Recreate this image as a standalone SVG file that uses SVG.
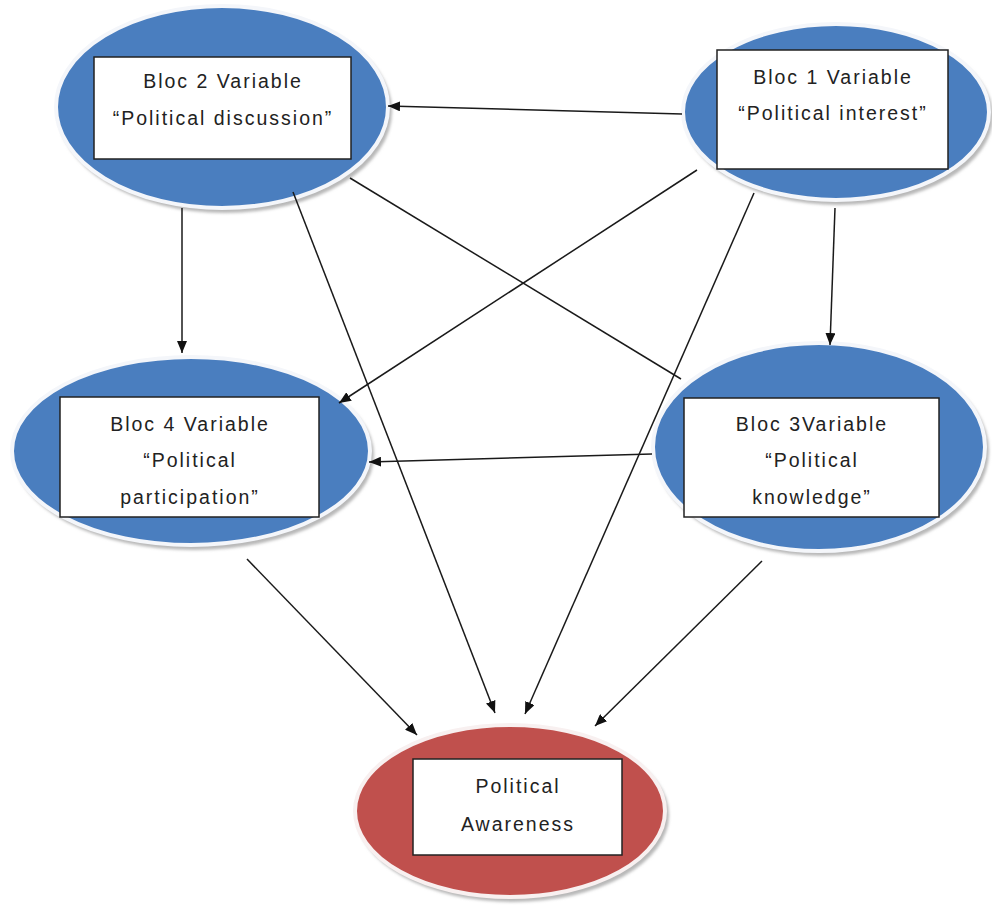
<svg xmlns="http://www.w3.org/2000/svg" width="992" height="905" viewBox="0 0 992 905">
<defs>
<marker id="ah" viewBox="0 0 12 10" refX="12" refY="5" markerWidth="12" markerHeight="10" markerUnits="userSpaceOnUse" orient="auto">
<path d="M0,0 L12,5 L0,10 Z" fill="#111"/>
</marker>
<filter id="blur" x="-10%" y="-10%" width="120%" height="120%"><feGaussianBlur stdDeviation="1.5"/></filter>
</defs>
<style>
.shadow{fill:#b8b8b8;filter:url(#blur)}
.blue{fill:#4a7ebf;stroke:#f4f6fa;stroke-width:4}
.red{fill:#c0504d;stroke:#f8f0f0;stroke-width:4}
.box{fill:#fff;stroke:#222;stroke-width:1.5}
.t{font-family:"Liberation Sans",Arial,sans-serif;font-size:19.5px;letter-spacing:2px;fill:#222;text-anchor:middle}
.c{fill:none;stroke:#1a1a1a;stroke-width:1.5}
.a{marker-end:url(#ah)}
</style>
<rect width="992" height="905" fill="#fff"/>
<g id="bloc2">
<ellipse class="shadow" cx="225" cy="111" rx="167" ry="102"/>
<ellipse class="blue" cx="222" cy="107" rx="166" ry="101"/>
<rect class="box" x="94" y="57" width="257" height="102"/>
<text class="t" x="223" y="88">Bloc 2 Variable</text>
<text class="t" x="223" y="125">“Political discussion”</text>
</g>
<g id="bloc1">
<ellipse class="shadow" cx="839" cy="116" rx="154" ry="89"/>
<ellipse class="blue" cx="836" cy="112" rx="153" ry="88"/>
<rect class="box" x="717" y="50" width="231" height="119"/>
<text class="t" x="833" y="84">Bloc 1 Variable</text>
<text class="t" x="833" y="120">“Political interest”</text>
</g>
<g id="bloc4">
<ellipse class="shadow" cx="194" cy="455" rx="180" ry="95"/>
<ellipse class="blue" cx="191" cy="451" rx="179" ry="94"/>
<rect class="box" x="60" y="397" width="259" height="120"/>
<text class="t" x="190" y="431">Bloc 4 Variable</text>
<text class="t" x="190" y="467">“Political</text>
<text class="t" x="190" y="504">participation”</text>
</g>
<g id="bloc3">
<ellipse class="shadow" cx="822" cy="451" rx="167" ry="105"/>
<ellipse class="blue" cx="819" cy="447" rx="166" ry="104"/>
<rect class="box" x="684" y="398" width="255" height="119"/>
<text class="t" x="812" y="431">Bloc 3Variable</text>
<text class="t" x="812" y="467">“Political</text>
<text class="t" x="812" y="504">knowledge”</text>
</g>
<g id="awareness">
<ellipse class="shadow" cx="513" cy="815" rx="156" ry="87"/>
<ellipse class="red" cx="510" cy="811" rx="155" ry="86"/>
<rect class="box" x="413" y="759" width="209" height="96"/>
<text class="t" x="518" y="793">Political</text>
<text class="t" x="518" y="831">Awareness</text>
</g>
<g id="connectors">
<line class="c a" x1="682" y1="114" x2="388" y2="106"/>
<line class="c a" x1="182" y1="208" x2="182" y2="353"/>
<line class="c a" x1="697" y1="170" x2="339" y2="403"/>
<line class="c a" x1="835" y1="208" x2="830" y2="345"/>
<line class="c a" x1="652" y1="454" x2="369" y2="462"/>
<line class="c" x1="350" y1="178" x2="681" y2="379"/>
<line class="c a" x1="293" y1="192" x2="495" y2="713"/>
<line class="c a" x1="754" y1="193" x2="525" y2="714"/>
<line class="c a" x1="247" y1="559" x2="417" y2="735"/>
<line class="c a" x1="762" y1="561" x2="595" y2="726"/>
</g>
</svg>
